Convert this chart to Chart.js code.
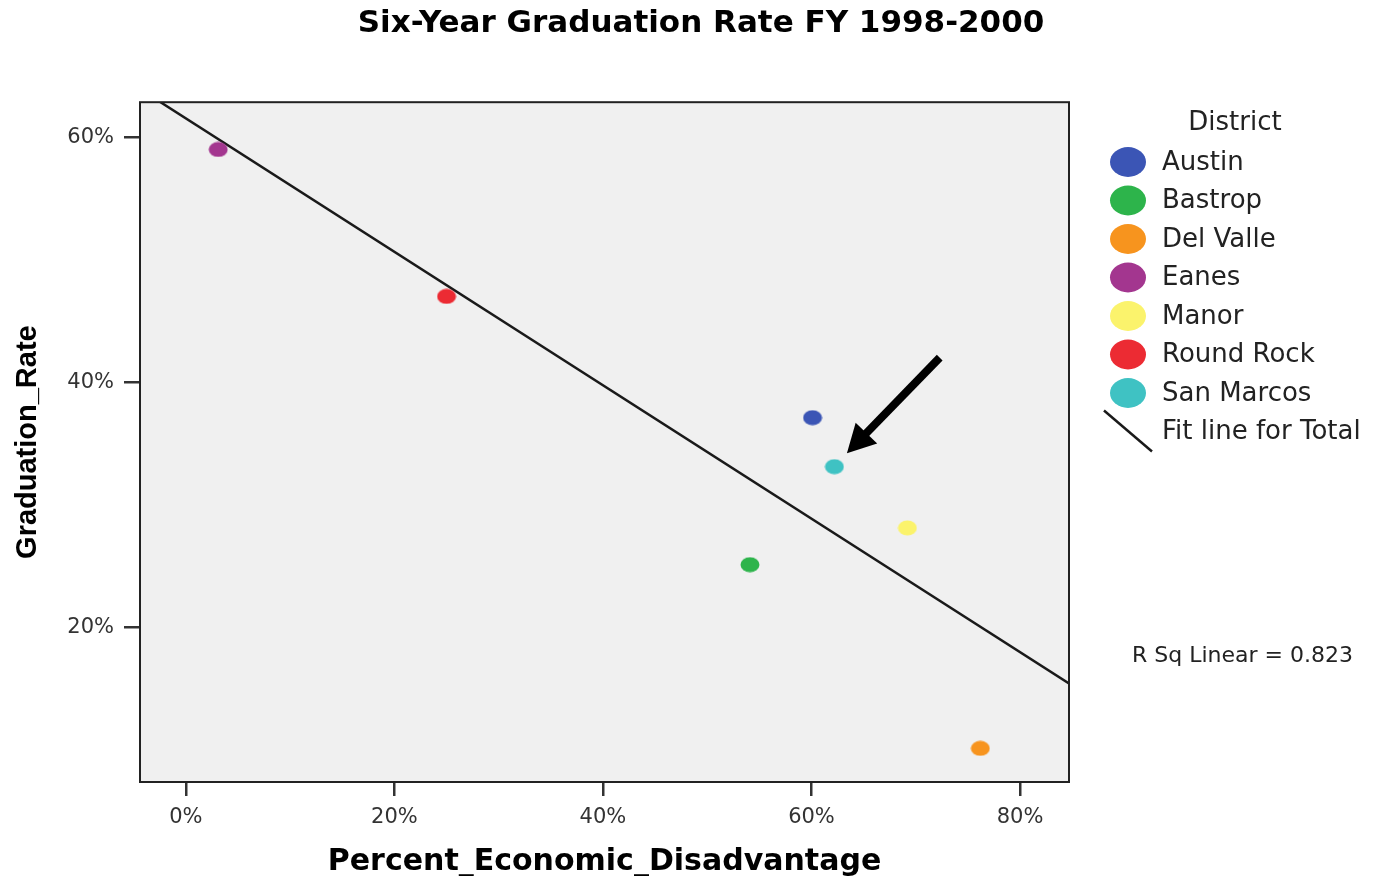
<!DOCTYPE html>
<html>
<head>
<meta charset="utf-8">
<title>Six-Year Graduation Rate FY 1998-2000</title>
<script src="https://cdn.jsdelivr.net/npm/chart.js@4.4.1/dist/chart.umd.min.js"></script>
<style>
  body { margin: 0; background: #fff; }
  #wrap { width: 1378px; height: 876px; }
</style>
</head>
<body>
<div id="wrap"><canvas id="gradChart"></canvas></div>
<script>
// Values (percent)
const districts = ["Austin", "Bastrop", "Del Valle", "Eanes", "Manor", "Round Rock", "San Marcos"];
const econDisadv = [60.1, 54.1, 76.2, 3.1, 69.2, 25.0, 62.2];
const gradRate = [37.1, 25.1, 10.1, 59.0, 28.1, 47.0, 33.1];
const districtColors = ["#3b55b5", "#2db44b", "#f7941e", "#a3368f", "#fbf36c", "#ec2b33", "#3fc2c3"];

// fit line end points, as drawn
const fitX = [-2.5, 84.7];
const fitY = [62.9, 15.4];
const rSquared = 0.823;

const xTicks = [0, 20, 40, 60, 80];
const yTicks = [20, 40, 60];

// arrow pointing at San Marcos
const arrowFrom = { x: 72.3, y: 42.0 };
const arrowTo = { x: 63.4, y: 34.2 };

const FONT = "'DejaVu Sans', sans-serif";

function makeDot(color, w, h) {
    const c = document.createElement("canvas");
    c.width = w;
    c.height = h;
    const g = c.getContext("2d");
    g.fillStyle = color;
    g.beginPath();
    g.ellipse(w / 2, h / 2, w / 2 - 0.5, h / 2 - 0.5, 0, 0, Math.PI * 2);
    g.fill();
    return c;
}

const datasets = districts.map((name, i) => ({
    type: "scatter",
    label: name,
    data: [{ x: econDisadv[i], y: gradRate[i] }],
    pointStyle: makeDot(districtColors[i], 20, 16),
    backgroundColor: districtColors[i],
    borderColor: districtColors[i]
}));

datasets.push({
    type: "line",
    label: "Fit line for Total",
    data: fitX.map((x, i) => ({ x: x, y: fitY[i] })),
    borderColor: "#1a1a1a",
    borderWidth: 2.5,
    pointRadius: 0,
    fill: false
});

// grey plot area, frame, arrow
const plotFrame = {
    id: "plotFrame",
    beforeDraw(chart) {
        const { ctx, chartArea: a } = chart;
        ctx.save();
        ctx.fillStyle = "#f0f0f0";
        ctx.fillRect(a.left, a.top, a.right - a.left, a.bottom - a.top);
        ctx.restore();
    },
    afterDatasetsDraw(chart) {
        const { ctx, chartArea: a, scales } = chart;
        ctx.save();
        ctx.strokeStyle = "#222";
        ctx.lineWidth = 2;
        ctx.strokeRect(a.left, a.top, a.right - a.left, a.bottom - a.top);

        // arrow
        const x1 = scales.x.getPixelForValue(arrowFrom.x);
        const y1 = scales.y.getPixelForValue(arrowFrom.y);
        const x2 = scales.x.getPixelForValue(arrowTo.x);
        const y2 = scales.y.getPixelForValue(arrowTo.y);
        const ang = Math.atan2(y2 - y1, x2 - x1);
        const headLen = 28, headW = 15;
        const bx = x2 - headLen * Math.cos(ang);
        const by = y2 - headLen * Math.sin(ang);
        ctx.strokeStyle = "#000";
        ctx.lineWidth = 8;
        ctx.beginPath();
        ctx.moveTo(x1, y1);
        ctx.lineTo(bx + 2 * Math.cos(ang), by + 2 * Math.sin(ang));
        ctx.stroke();
        ctx.fillStyle = "#000";
        ctx.beginPath();
        ctx.moveTo(x2, y2);
        ctx.lineTo(bx + headW * Math.sin(ang), by - headW * Math.cos(ang));
        ctx.lineTo(bx - headW * Math.sin(ang), by + headW * Math.cos(ang));
        ctx.closePath();
        ctx.fill();
        ctx.restore();
    }
};

// legend on the right, drawn by hand to match the SPSS layout
const districtLegend = {
    id: "districtLegend",
    afterDraw(chart) {
        const ctx = chart.ctx;
        ctx.save();
        ctx.fillStyle = "#222";
        ctx.textBaseline = "middle";
        ctx.font = "26px " + FONT;
        ctx.textAlign = "center";
        ctx.fillText("District", 1235, 123);

        ctx.textAlign = "left";
        const rowH = 38.5;
        districts.forEach((name, i) => {
            const y = 162 + i * rowH;
            ctx.fillStyle = districtColors[i];
            ctx.beginPath();
            ctx.ellipse(1128, y, 18, 15, 0, 0, Math.PI * 2);
            ctx.fill();
            ctx.fillStyle = "#222";
            ctx.fillText(name, 1162, y + 1);
        });

        const fy = 162 + districts.length * rowH;
        ctx.strokeStyle = "#1a1a1a";
        ctx.lineWidth = 2.5;
        ctx.beginPath();
        ctx.moveTo(1104, fy - 21);
        ctx.lineTo(1152, fy + 20);
        ctx.stroke();
        ctx.fillText("Fit line for Total", 1162, fy + 1);

        ctx.font = "22px " + FONT;
        ctx.fillText("R Sq Linear = " + rSquared.toFixed(3), 1132, 656);
        ctx.restore();
    }
};

const ctx = document.getElementById("gradChart").getContext("2d");
const chart = new Chart(ctx, {
    type: "scatter",
    data: { datasets: datasets },
    plugins: [plotFrame, districtLegend],
    options: {
        responsive: true,
        maintainAspectRatio: false,
        animation: false,
        events: [],
        layout: { padding: { left: 24, right: 0, top: 0, bottom: 0 } },
        plugins: {
            legend: { display: false },
            tooltip: { enabled: false },
            title: {
                display: true,
                text: "Six-Year Graduation Rate FY 1998-2000",
                color: "#000",
                font: { family: FONT, size: 31, weight: "bold", lineHeight: 1.2 },
                padding: { top: 5, bottom: 60 }
            }
        },
        scales: {
            x: {
                type: "linear",
                min: -4.4,
                max: 84.7,
                afterBuildTicks: s => { s.ticks = xTicks.map(v => ({ value: v })); },
                afterFit: s => { s.height = 94; },
                ticks: {
                    color: "#333",
                    font: { family: FONT, size: 21 },
                    padding: 9,
                    maxRotation: 0,
                    callback: v => v + "%"
                },
                grid: { display: true, drawOnChartArea: false, drawTicks: true, tickLength: 14, color: "#333", lineWidth: 2.5 },
                border: { display: false },
                title: {
                    display: true,
                    text: "Percent_Economic_Disadvantage",
                    color: "#000",
                    font: { family: FONT, size: 30, weight: "bold", lineHeight: 1.2 },
                    padding: { top: 0, bottom: -4 }
                }
            },
            y: {
                type: "linear",
                min: 7.35,
                max: 62.86,
                afterBuildTicks: s => { s.ticks = yTicks.map(v => ({ value: v })); },
                afterFit: s => { s.width = 116; },
                ticks: {
                    color: "#333",
                    font: { family: FONT, size: 21 },
                    padding: 10,
                    callback: v => v + "%"
                },
                grid: { display: true, drawOnChartArea: false, drawTicks: true, tickLength: 16, color: "#333", lineWidth: 2.5 },
                border: { display: false },
                title: {
                    display: true,
                    text: "Graduation_Rate",
                    color: "#000",
                    font: { family: "'Liberation Sans', Arial, sans-serif", size: 29, weight: "bold", lineHeight: 1.2 },
                    padding: { top: -13, bottom: 0 }
                }
            },
            // empty scale keeping room for the legend on the right
            legendRoom: {
                type: "linear",
                position: "right",
                afterFit: s => { s.width = 309; },
                ticks: { display: false },
                grid: { display: false },
                border: { display: false }
            }
        }
    }
});
</script>
</body>
</html>
